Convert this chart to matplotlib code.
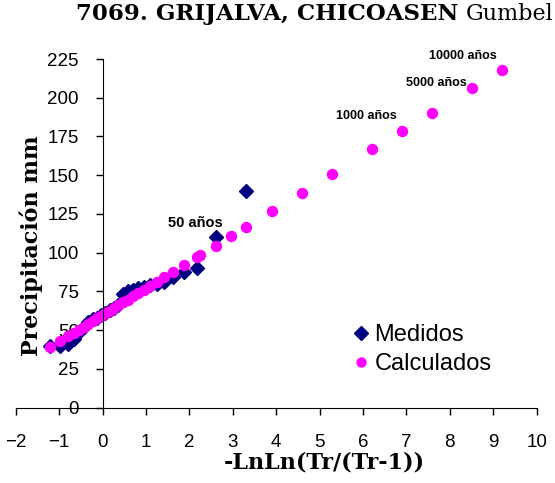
import matplotlib.pyplot as plt
from matplotlib.lines import Line2D

# valores medidos (posiciones de graficado) y precipitacion
x_medidos = [3.314, 2.602, 2.178, 1.870, 1.626, 1.422, 1.246, 1.089, 0.947,
             0.817, 0.695, 0.581, 0.471, 0.367, 0.265, 0.166, 0.068, -0.029,
             -0.127, -0.225, -0.327, -0.432, -0.544, -0.666, -0.804, -0.970, -1.204]
y_medidos = [140, 110, 90, 87.5, 84, 81, 80, 79, 78,
             77, 76, 75, 73, 66, 64, 63, 61, 60,
             58, 57, 55, 52, 49, 44, 41, 39.5, 40]

# valores calculados con Gumbel
x_calc = [9.210, 8.517, 7.600, 6.907, 6.214, 5.296, 4.600, 3.902, 2.970, 2.250,
          3.314, 2.602, 2.178, 1.870, 1.626, 1.422, 1.246, 1.089, 0.947,
          0.817, 0.695, 0.581, 0.471, 0.367, 0.265, 0.166, 0.068, -0.029,
          -0.127, -0.225, -0.327, -0.432, -0.544, -0.666, -0.804, -0.970, -1.204]
y_calc = [218.1, 206.2, 190.4, 178.5, 166.6, 150.8, 138.8, 126.8, 110.8, 98.4,
          116.7, 104.5, 97.2, 91.9, 87.7, 84.2, 81.1, 78.4, 76.0,
          73.8, 71.7, 69.7, 67.8, 66.0, 64.3, 62.6, 60.9, 59.2,
          57.5, 55.8, 54.1, 52.3, 50.3, 48.2, 45.9, 43.0, 39.0]

# etiquetas de periodo de retorno
etiquetas = ['10000 años', '5000 años', '1000 años', '50 años']
etiq_x = [8.30, 7.68, 6.07, 2.13]
etiq_y = [227.2, 209.3, 188.1, 119.0]
etiq_size = [9, 9, 9, 10.5]

fig = plt.figure(figsize=(5.55, 4.83), dpi=100)
ax = fig.add_axes([0.0283, 0.1563, 0.9387, 0.7215])

ax.plot(x_medidos, y_medidos, linestyle='none', marker='D', markersize=7.2,
        color='#000080', label='Medidos')
ax.plot(x_calc, y_calc, linestyle='none', marker='o', markersize=7.2,
        color='#FF00FF', label='Calculados')

ax.set_xlim(-2, 10)
ax.set_ylim(0, 225)
ax.set_xticks(range(-2, 11))
ax.set_yticks(range(0, 226, 25))

ax.spines['top'].set_visible(False)
ax.spines['right'].set_visible(False)
ax.spines['left'].set_position(('data', 0))
ax.spines['bottom'].set_position(('data', 0))
ax.tick_params(axis='both', direction='out', length=5, width=1,
               labelsize=13.5)
ax.tick_params(axis='x', pad=14)
ax.tick_params(axis='y', pad=12)
for lab in ax.get_xticklabels() + ax.get_yticklabels():
    lab.set_fontfamily('Liberation Sans')

for t, xx, yy, s in zip(etiquetas, etiq_x, etiq_y, etiq_size):
    ax.text(xx, yy, t, ha='center', va='center', fontsize=s, fontweight='bold',
            family='Liberation Sans', clip_on=False)

# titulo: parte en negrita y "Gumbel" normal
fig.text(0.826, 0.971, '7069. GRIJALVA, CHICOASEN', ha='right', va='center',
         fontsize=16.5, fontweight='bold', family='DejaVu Serif')
fig.text(0.839, 0.971, 'Gumbel', ha='left', va='center',
         fontsize=16, family='DejaVu Serif')

fig.text(0.056, 0.491, 'Precipitación mm', rotation=90, ha='center', va='center',
         fontsize=16, fontweight='bold', family='DejaVu Serif')
fig.text(0.585, 0.043, '-LnLn(Tr/(Tr-1))', ha='center', va='center',
         fontsize=16, fontweight='bold', family='DejaVu Serif')

h1 = Line2D([], [], linestyle='none', marker='D', markersize=7, color='#000080')
h2 = Line2D([], [], linestyle='none', marker='o', markersize=6.5, color='#FF00FF')
leg = ax.legend([h1, h2], ['Medidos', 'Calculados'], loc='upper left',
                bbox_to_anchor=(0.65, 0.24), frameon=False, fontsize=17,
                handlelength=0.6, handletextpad=0.25, labelspacing=0.3,
                borderaxespad=0, borderpad=0)
for t in leg.get_texts():
    t.set_fontfamily('Liberation Sans')

fig.savefig('out.png', dpi=100)
